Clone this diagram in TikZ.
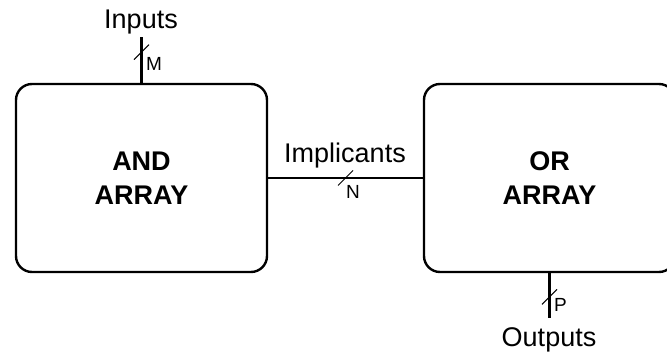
\documentclass[tikz,border=0pt]{standalone}
\usepackage{fontspec}
\setmainfont{Liberation Sans}
\usetikzlibrary{calc}

\tikzset{
	block/.style={draw, line width=2.4pt, rounded corners=16pt, minimum width=251pt, minimum height=188pt, align=center, inner sep=0pt, font=\fontsize{27}{34}\selectfont\bfseries},
	wire/.style={line width=2.4pt},
	tick/.style={line width=1pt},
	lbl/.style={anchor=base, inner sep=0pt, font=\fontsize{27}{32}\selectfont},
	sub/.style={anchor=base west, inner sep=0pt, font=\fontsize{19}{22}\selectfont}
}

\begin{document}
\begin{tikzpicture}[x=1pt, y=-1pt]
	\clip (0,0) rectangle (667,353);
	
	\node[block] (andarr) at (141.5,178){AND\\ARRAY};
	\node[block] (orarr) at (549.5,178){OR\\ARRAY};
	
	\coordinate (intop) at (141.5,37);
	\coordinate (outbot) at (549.5,318);
	
	\draw[wire] (andarr.north) -- (intop) coordinate[pos=.67] (mbus);
	\draw[wire] (andarr) -- (orarr) coordinate[pos=.5] (nbus);
	\draw[wire] (orarr.south) -- (outbot) coordinate[pos=.53] (pbus);
	
	% bus width marks
	\foreach \b in {mbus,nbus,pbus}
		\draw[tick] ($(\b)+(-7.5,7.5)$) -- ($(\b)+(7.5,-7.5)$);
	
	\node[lbl] (inputs) at (141,28.3){Inputs};
	\node[lbl] (implicants) at (345,162.3){Implicants};
	\node[lbl] (outputs) at (549,346.5){Outputs};
	
	\node[sub] (m) at (146,70.7){M};
	\node[sub, anchor=base] (n) at (353,198){N};
	\node[sub] (p) at (554,311.7){P};
\end{tikzpicture}
\end{document}
